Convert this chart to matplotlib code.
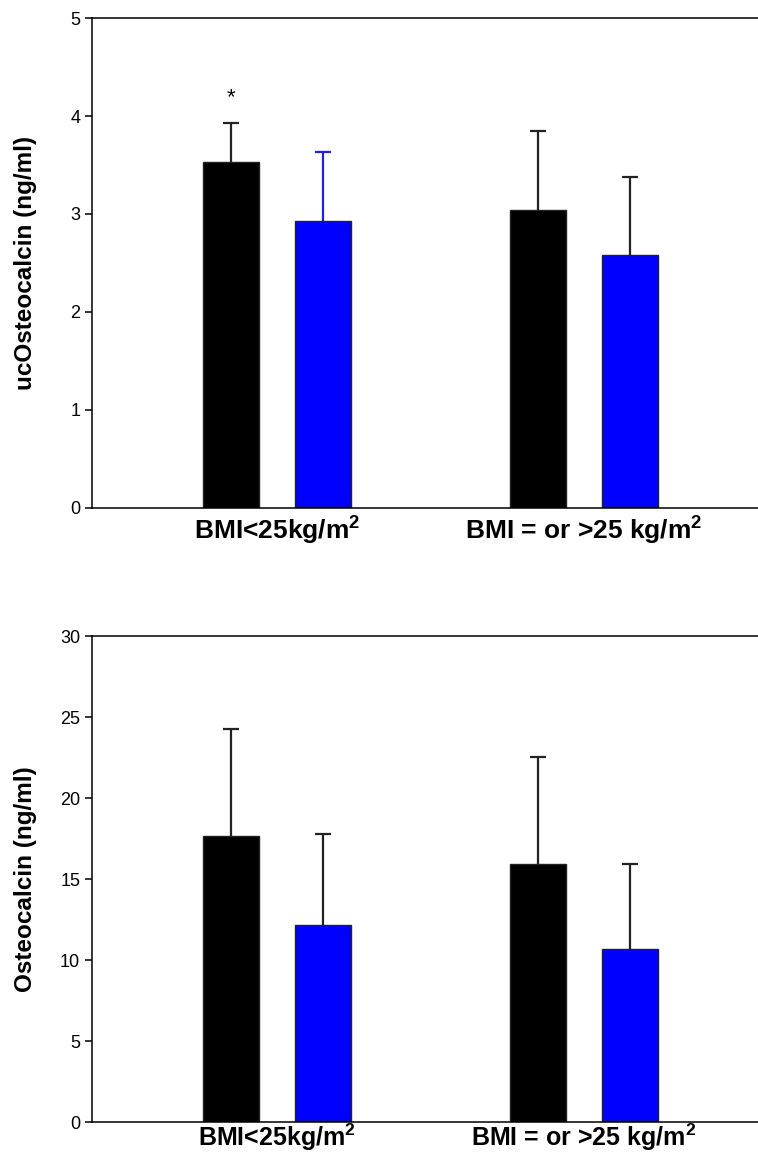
import numpy as np
import matplotlib
matplotlib.use("Agg")
import matplotlib.pyplot as plt

plt.rcParams["font.family"] = ["Liberation Sans", "DejaVu Sans"]
plt.rcParams["mathtext.fontset"] = "custom"
plt.rcParams["mathtext.rm"] = "Liberation Sans:bold"
plt.rcParams["mathtext.bf"] = "Liberation Sans:bold"
plt.rcParams["mathtext.it"] = "Liberation Sans:bold:italic"

# datos
grupos = ["BMI<25kg/m$^2$", "BMI = or >25 kg/m$^2$"]

uc_negro = [3.53, 3.04]
uc_negro_sd = [0.40, 0.81]
uc_azul = [2.93, 2.58]
uc_azul_sd = [0.70, 0.80]

oc_negro = [17.66, 15.93]
oc_negro_sd = [6.65, 6.65]
oc_azul = [12.2, 10.69]
oc_azul_sd = [5.62, 5.26]

paneles = [
    ("ucOsteocalcin (ng/ml)", uc_negro, uc_negro_sd, uc_azul, uc_azul_sd, 5, 1, 5, 19),
    ("Osteocalcin (ng/ml)", oc_negro, oc_negro_sd, oc_azul, oc_azul_sd, 30, 5, 0, 18),
]

fig = plt.figure(figsize=(7.58, 11.55), dpi=100)
posiciones = [[0.1214, 0.5602, 0.8786, 0.4242], [0.1214, 0.0285, 0.8786, 0.4205]]

x = np.arange(1, len(grupos) + 1)
ancho = 0.185
desp = 0.15


def barras_error(ax, xs, vals, sds, colores):
    # solo la parte de arriba, con el tope dibujado aparte
    for xi, v, s, c in zip(xs, vals, sds, colores):
        ax.errorbar([xi], [v], yerr=[[0], [s]], fmt="none", ecolor=c,
                    elinewidth=1.6, capsize=0, zorder=1)
        ax.plot([xi], [v + s], marker="_", markersize=11, mew=1.6, color=c, zorder=1)


for pos, (etiqueta, negro, negro_sd, azul, azul_sd, ymax, paso, pad_x, fs_x) in zip(posiciones, paneles):
    ax = fig.add_axes(pos)
    ax.bar(x - desp, negro, ancho, color="black", edgecolor="#222222", linewidth=1, zorder=2)
    ax.bar(x + desp, azul, ancho, color="#0000ff", edgecolor="#222222", linewidth=1, zorder=2)
    barras_error(ax, x - desp, negro, negro_sd, ["#222222", "#222222"])
    col_err = ["#2020dd", "#222222"] if ymax == 5 else ["#222222", "#222222"]
    barras_error(ax, x + desp, azul, azul_sd, col_err)

    ax.set_xlim(0.3974, 2.567)
    ax.set_ylim(0, ymax)
    ax.set_yticks(np.arange(0, ymax + paso / 2, paso))
    ax.set_xticks(x)
    ax.set_xticklabels(grupos, fontsize=fs_x, fontweight="bold")
    ax.tick_params(axis="x", length=0, pad=pad_x)
    ax.tick_params(axis="y", direction="out", length=5, width=1.1, labelsize=13, pad=3.5)
    ax.spines["right"].set_visible(False)
    for s in ["left", "top", "bottom"]:
        ax.spines[s].set_linewidth(1.1)
    ax.set_ylabel(etiqueta, fontsize=17.5, fontweight="bold")
    ax.yaxis.set_label_coords(-0.082, 0.5)

    if ymax == 5:
        ax.text(x[0] - desp, 4.19, "*", ha="center", va="center", fontsize=16)

fig.savefig("out.png", dpi=100)
